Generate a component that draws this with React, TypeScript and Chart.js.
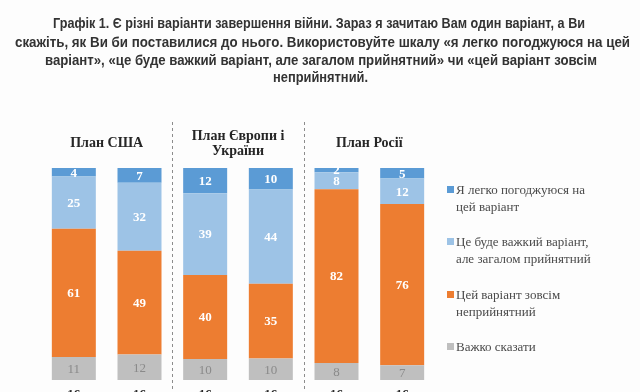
import React, { useEffect, useRef } from "react";
import { Chart, registerables } from "chart.js";

Chart.register(...registerables);

// ---- data ----
const categories = ["16", "16", "16", "16", "16", "16"];
const easyAgree = [4, 7, 12, 10, 2, 5];
const hardButAcceptable = [25, 32, 39, 44, 8, 12];
const unacceptable = [61, 49, 40, 35, 82, 76];
const hardToSay = [11, 12, 10, 10, 8, 7];

const seriesLabels = [
  ["Я легко погоджуюся на", "цей варіант"],
  ["Це буде важкий варіант,", "але загалом прийнятний"],
  ["Цей варіант зовсім", "неприйнятний"],
  ["Важко сказати"],
];
const groupTitles = [["План США"], ["План Європи і", "України"], ["План Росії"]];
const titleLines = [
  "Графік 1. Є різні варіанти завершення війни. Зараз я зачитаю Вам один варіант, а Ви",
  "скажіть, як Ви би поставилися до нього. Використовуйте шкалу «я легко погоджуюся на цей",
  "варіант», «це буде важкий варіант, але загалом прийнятний» чи «цей варіант зовсім",
  "неприйнятний.",
];

const COLORS = {
  easy: "#5B9BD5",
  hard: "#9DC3E6",
  unacc: "#ED7D31",
  dk: "#BFBFBF",
};

const SERIF = '"Liberation Serif", "Times New Roman", serif';
const SANS = '"Liberation Sans", Arial, sans-serif';

// title line extents (left, right) and centre y in px
const titleSpans: [number, number, number][] = [
  [53, 585, 24],
  [15, 630, 43],
  [45, 597, 61],
  [273, 368, 78],
];

export default function App() {
  const ref = useRef<HTMLCanvasElement | null>(null);

  useEffect(() => {
    if (!ref.current) return;
    const totals = categories.map(
      (_, i) => easyAgree[i] + hardButAcceptable[i] + unacceptable[i] + hardToSay[i]
    );
    const pct = (arr: number[]) => arr.map((v, i) => (v / totals[i]) * 100);
    const raw = [hardToSay, unacceptable, hardButAcceptable, easyAgree];

    const overlay = {
      id: "overlay",
      afterDatasetsDraw(chart: any) {
        const ctx = chart.ctx as CanvasRenderingContext2D;
        const xs = chart.scales.x;
        ctx.save();
        // data labels
        chart.data.datasets.forEach((ds: any, di: number) => {
          const meta = chart.getDatasetMeta(di);
          meta.data.forEach((bar: any, i: number) => {
            const v = raw[di][i];
            const cy = (bar.y + bar.base) / 2;
            ctx.textAlign = "center";
            ctx.textBaseline = "middle";
            if (di === 0) {
              ctx.font = `13px ${SERIF}`;
              ctx.fillStyle = "#8A8A8A";
            } else {
              ctx.font = `bold 13px ${SERIF}`;
              ctx.fillStyle = "#FFFFFF";
            }
            ctx.fillText(String(v), bar.x, cy + 1);
          });
        });
        // separators
        ctx.strokeStyle = "#8C8C8C";
        ctx.lineWidth = 1;
        ctx.setLineDash([3, 3]);
        [1.5, 3.5].forEach((p) => {
          const x =
            Math.round(
              (xs.getPixelForValue(Math.floor(p)) + xs.getPixelForValue(Math.ceil(p))) / 2
            ) + 0.5;
          ctx.beginPath();
          ctx.moveTo(x, 122);
          ctx.lineTo(x, chart.height);
          ctx.stroke();
        });
        ctx.setLineDash([]);
        // group titles
        ctx.font = `bold 14px ${SERIF}`;
        ctx.fillStyle = "#262626";
        ctx.textAlign = "center";
        ctx.textBaseline = "middle";
        groupTitles.forEach((lines, g) => {
          const x = (xs.getPixelForValue(g * 2) + xs.getPixelForValue(g * 2 + 1)) / 2;
          const y0 = lines.length === 1 ? 143 : 136;
          lines.forEach((l, k) => ctx.fillText(l, x, y0 + k * 15));
        });
        // title
        ctx.font = `bold 15px ${SANS}`;
        ctx.fillStyle = "#333333";
        ctx.textAlign = "left";
        ctx.textBaseline = "middle";
        titleLines.forEach((l, k) => {
          const [a, b, y] = titleSpans[k];
          const w = ctx.measureText(l).width;
          ctx.save();
          ctx.translate(a, y);
          ctx.scale((b - a) / w, 1);
          ctx.fillText(l, 0, 0);
          ctx.restore();
        });
        // legend
        const cols = [COLORS.easy, COLORS.hard, COLORS.unacc, COLORS.dk];
        const ys = [190, 242, 295, 347];
        ctx.font = `13px ${SERIF}`;
        ctx.textAlign = "left";
        seriesLabels.forEach((lines, k) => {
          ctx.fillStyle = cols[k];
          ctx.fillRect(447, ys[k] - 4, 7, 7);
          ctx.fillStyle = "#4A4A4A";
          lines.forEach((l, j) => ctx.fillText(l, 456, ys[k] + 1 + j * 17));
        });
        ctx.restore();
      },
    };

    const chart = new Chart(ref.current, {
      type: "bar",
      data: {
        labels: categories,
        datasets: [
          { label: seriesLabels[3].join(" "), data: pct(hardToSay), backgroundColor: COLORS.dk },
          { label: seriesLabels[2].join(" "), data: pct(unacceptable), backgroundColor: COLORS.unacc },
          { label: seriesLabels[1].join(" "), data: pct(hardButAcceptable), backgroundColor: COLORS.hard },
          { label: seriesLabels[0].join(" "), data: pct(easyAgree), backgroundColor: COLORS.easy },
        ].map((d) => ({
          ...d,
          categoryPercentage: 1,
          barPercentage: 0.67,
          borderWidth: 0,
        })),
      },
      options: {
        animation: false,
        responsive: false,
        maintainAspectRatio: false,
        layout: { padding: { left: 41, right: 205, top: 168, bottom: 0 } },
        plugins: {
          legend: { display: false },
          title: { display: false },
          tooltip: { enabled: false },
        },
        scales: {
          x: {
            stacked: true,
            grid: { display: false },
            border: { display: false },
            afterFit: (scale: any) => {
              scale.height = 12;
            },
            ticks: {
              padding: -1,
              color: "#262626",
              font: { family: SERIF, size: 13, weight: "bold" },
            },
          },
          y: { stacked: true, display: false, min: 0, max: 100 },
        },
      },
      plugins: [overlay],
    });
    return () => chart.destroy();
  }, []);

  return (
    <div
      style={{ width: 640, height: 392, overflow: "hidden", position: "relative", background: "#FDFDFD" }}
    >
      <style>{`html,body{margin:0;padding:0;overflow:hidden;background:#FDFDFD}`}</style>
      <canvas ref={ref} width={640} height={392} style={{ display: "block" }} />
    </div>
  );
}
